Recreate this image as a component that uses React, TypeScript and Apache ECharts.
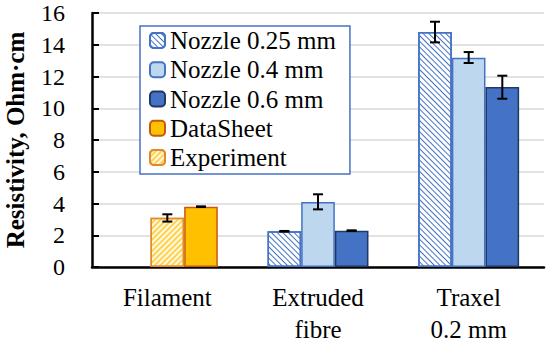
import React, { useEffect, useRef } from "react";
import * as echarts from "echarts";

const categories = ["Filament", "Extruded\nfibre", "Traxel\n0.2 mm"];
const nozzle025 = [null, 2.25, 14.8];
const nozzle04 = [null, 4.1, 13.18];
const nozzle06 = [null, 2.29, 11.34];
const dataSheet = [3.8, null, null];
const experiment = [3.1, null, null];
// error bars: [categoryIndex, low, high, slot]
const errNozzle025 = [[1, 2.23, 2.27, -1], [2, 14.15, 15.45, -1]];
const errNozzle04 = [[1, 3.63, 4.58, 0], [2, 12.85, 13.54, 0]];
const errNozzle06 = [[1, 2.27, 2.31, 1], [2, 10.6, 12.05, 1]];
const errFilament = [[0, 2.86, 3.32, 0], [0, 3.78, 3.82, 1]];
const yTicks = { min: 0, max: 16, interval: 2 };

const GAP = 0.33;
const FONT = "Liberation Serif";

export default function App() {
  const ref = useRef<HTMLDivElement>(null);
  useEffect(() => {
    if (!ref.current) return;
    const chart = echarts.init(ref.current, null, { renderer: "svg" });
    const toData = (a: (number | null)[]) => a.map((v) => (v == null ? "-" : v));
    const errData = [...errNozzle025, ...errNozzle04, ...errNozzle06, ...errFilament];
    chart.setOption({
      animation: false,
      textStyle: { fontFamily: FONT },
      grid: { left: 92, right: 6, top: 13, bottom: 79, containLabel: false, outerBoundsMode: "none" },
      legend: {
        orient: "vertical",
        left: 140,
        top: 26,
        backgroundColor: "#fff",
        borderColor: "#4472C4",
        borderWidth: 1.5,
        padding: [2, 14, 4, 9],
        itemWidth: 15,
        itemHeight: 15,
        itemGap: 4.25,
        textStyle: { fontFamily: FONT, fontSize: 25, color: "#000" },
        data: ["Nozzle 0.25 mm", "Nozzle 0.4 mm", "Nozzle 0.6 mm", "DataSheet", "Experiment"],
      },
      xAxis: {
        type: "category",
        data: categories,
        axisLine: { lineStyle: { color: "#000", width: 2.5 } },
        axisTick: { show: false },
        axisLabel: { fontFamily: FONT, fontSize: 25, color: "#000", margin: 14, lineHeight: 32 },
      },
      yAxis: {
        type: "value",
        min: yTicks.min,
        max: yTicks.max,
        interval: yTicks.interval,
        name: "Resistivity, Ohm·cm",
        nameLocation: "middle",
        nameGap: 64,
        nameTextStyle: { fontFamily: FONT, fontSize: 25, fontWeight: "bold", color: "#000" },
        axisLine: { show: true, lineStyle: { color: "#000", width: 2.5 } },
        axisTick: { show: true, inside: true, length: 7, lineStyle: { color: "#000", width: 2 } },
        axisLabel: { fontFamily: FONT, fontSize: 24, color: "#000", margin: 27 },
        splitLine: { lineStyle: { color: "#D9D9D9", width: 1.5 } },
      },
      series: [
        {
          name: "Nozzle 0.25 mm",
          type: "bar",
          stack: "s0",
          barCategoryGap: GAP * 100 + "%",
          barGap: "0%",
          data: toData(nozzle025),
          itemStyle: {
            color: "#fff",
            borderColor: "#4472C4",
            borderWidth: 1.5,
            decal: { symbol: "rect", color: "#4472C4", dashArrayX: [1, 0], dashArrayY: [1, 2.2], rotation: Math.PI / 4 },
          },
        },
        {
          name: "Nozzle 0.4 mm",
          type: "bar",
          stack: "s1",
          data: toData(nozzle04),
          itemStyle: { color: "#BDD7EE", borderColor: "#4472C4", borderWidth: 1.5 },
        },
        {
          name: "Nozzle 0.6 mm",
          type: "bar",
          stack: "s2",
          data: toData(nozzle06),
          itemStyle: { color: "#4472C4", borderColor: "#203864", borderWidth: 1.5 },
        },
        {
          name: "DataSheet",
          type: "bar",
          stack: "s2",
          data: toData(dataSheet),
          itemStyle: { color: "#FFC000", borderColor: "#C65911", borderWidth: 1.5 },
        },
        {
          name: "Experiment",
          type: "bar",
          stack: "s1",
          data: toData(experiment),
          itemStyle: {
            color: "#FFF9E6",
            borderColor: "#E08A2E",
            borderWidth: 1.5,
            decal: { symbol: "rect", color: "#FFD24D", dashArrayX: [1, 0], dashArrayY: [1.2, 2], rotation: -Math.PI / 4 },
          },
        },
        {
          type: "custom",
          z: 10,
          silent: true,
          encode: { x: 0, y: [1, 2] },
          data: errData,
          renderItem: (params: any, api: any) => {
            const cat = api.value(0);
            const lo = api.coord([cat, api.value(1)]);
            const hi = api.coord([cat, api.value(2)]);
            const slot = api.value(3);
            const band = api.size([1, 0])[0];
            const barW = (band * (1 - GAP)) / 3;
            const x = lo[0] + slot * barW;
            const h = 5;
            const style = { stroke: "#000", lineWidth: 2 };
            return {
              type: "group",
              children: [
                { type: "line", shape: { x1: x, y1: lo[1], x2: x, y2: hi[1] }, style },
                { type: "line", shape: { x1: x - h, y1: lo[1], x2: x + h, y2: lo[1] }, style },
                { type: "line", shape: { x1: x - h, y1: hi[1], x2: x + h, y2: hi[1] }, style },
              ],
            };
          },
        },
      ],
    });
    return () => chart.dispose();
  }, []);
  return <div ref={ref} style={{ width: 550, height: 346, position: "absolute", left: 0, top: 0 }} />;
}
